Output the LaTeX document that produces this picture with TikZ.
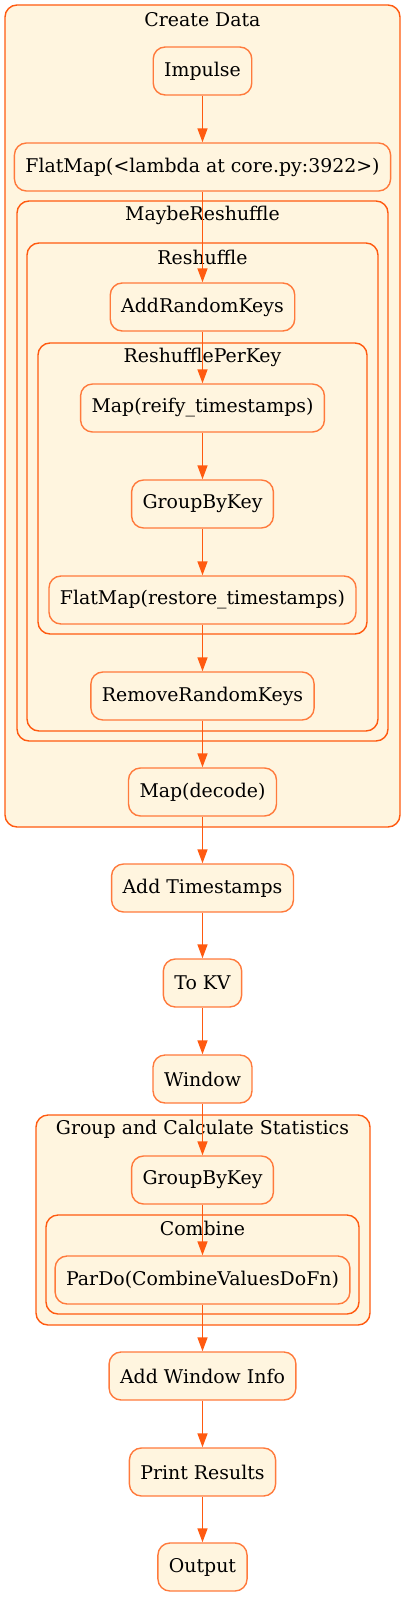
\documentclass[tikz,border=0pt]{standalone}
\usepackage{fontspec}
\setmainfont{DejaVu Serif}
\usetikzlibrary{positioning,arrows.meta}
\definecolor{beamorange}{HTML}{FF5A10}
\definecolor{beamedge}{HTML}{FF7A3C}
\definecolor{beamfill}{HTML}{FFF5DF}
\tikzset{
	stepbox/.style={draw=beamedge,fill=beamfill,rounded corners=12pt,line width=1.4pt,minimum height=48pt,inner xsep=11pt,font=\fontsize{18.9}{21}\selectfont},
	cluster/.style={draw=beamorange,fill=beamfill,rounded corners=12pt,line width=1.4pt},
	clusterlabel/.style={inner sep=0pt,font=\fontsize{18.9}{21}\selectfont},
	flow/.style={beamorange,line width=1.6pt,-{Triangle[length=14pt,width=10pt]}}
}
\begin{document}
\begin{tikzpicture}[x=1pt,y=1pt]
		\useasboundingbox (0,0) rectangle (405,-1597);
		
		% clusters
		\draw[cluster] (5,-5) rectangle (400,-827);
		\node[clusterlabel] (createlbl) at (202.5,-20) {Create Data};
		\draw[cluster] (17,-201) rectangle (388,-741);
		\node[clusterlabel] (maybelbl) at (202.5,-215) {MaybeReshuffle};
		\draw[cluster] (27,-243) rectangle (378,-731);
		\node[clusterlabel] (reshufflelbl) at (202.5,-257) {Reshuffle};
		\draw[cluster] (38,-343) rectangle (367,-634);
		\node[clusterlabel] (perkeylbl) at (202.5,-357) {ReshufflePerKey};
		\draw[cluster] (36,-1115) rectangle (370,-1325);
		\node[clusterlabel] (statslbl) at (202.5,-1129) {Group and Calculate Statistics};
		\draw[cluster] (46,-1215) rectangle (359,-1314);
		\node[clusterlabel] (combinelbl) at (202.5,-1228) {Combine};
		
		% nodes
		\node[stepbox] (impulse) at (202.5,-71) {Impulse};
		\node[stepbox] (flatmap) at (202.5,-167) {FlatMap(<lambda at core.py:3922>)};
		\node[stepbox] (addkeys) at (202.5,-307) {AddRandomKeys};
		\node[stepbox] (reify) at (202.5,-408) {Map(reify\_timestamps)};
		\node[stepbox] (gbkone) at (202.5,-504) {GroupByKey};
		\node[stepbox] (restore) at (202.5,-600) {FlatMap(restore\_timestamps)};
		\node[stepbox] (removekeys) at (202.5,-696) {RemoveRandomKeys};
		\node[stepbox] (decode) at (202.5,-792) {Map(decode)};
		\node[stepbox] (addts) at (202.5,-888) {Add Timestamps};
		\node[stepbox] (tokv) at (202.5,-983) {To KV};
		\node[stepbox] (window) at (202.5,-1079) {Window};
		\node[stepbox] (gbktwo) at (202.5,-1180) {GroupByKey};
		\node[stepbox] (pardo) at (202.5,-1280) {ParDo(CombineValuesDoFn)};
		\node[stepbox] (addwin) at (202.5,-1376) {Add Window Info};
		\node[stepbox] (print) at (202.5,-1472) {Print Results};
		\node[stepbox] (output) at (202.5,-1567) {Output};
		
		% edges
		\draw[flow] (impulse.south) -- (flatmap.north);
		\draw[flow] (flatmap.south) -- (addkeys.north);
		\draw[flow] (addkeys.south) -- (reify.north);
		\draw[flow] (reify.south) -- (gbkone.north);
		\draw[flow] (gbkone.south) -- (restore.north);
		\draw[flow] (restore.south) -- (removekeys.north);
		\draw[flow] (removekeys.south) -- (decode.north);
		\draw[flow] (decode.south) -- (addts.north);
		\draw[flow] (addts.south) -- (tokv.north);
		\draw[flow] (tokv.south) -- (window.north);
		\draw[flow] (window.south) -- (gbktwo.north);
		\draw[flow] (gbktwo.south) -- (pardo.north);
		\draw[flow] (pardo.south) -- (addwin.north);
		\draw[flow] (addwin.south) -- (print.north);
		\draw[flow] (print.south) -- (output.north);
\end{tikzpicture}
\end{document}
